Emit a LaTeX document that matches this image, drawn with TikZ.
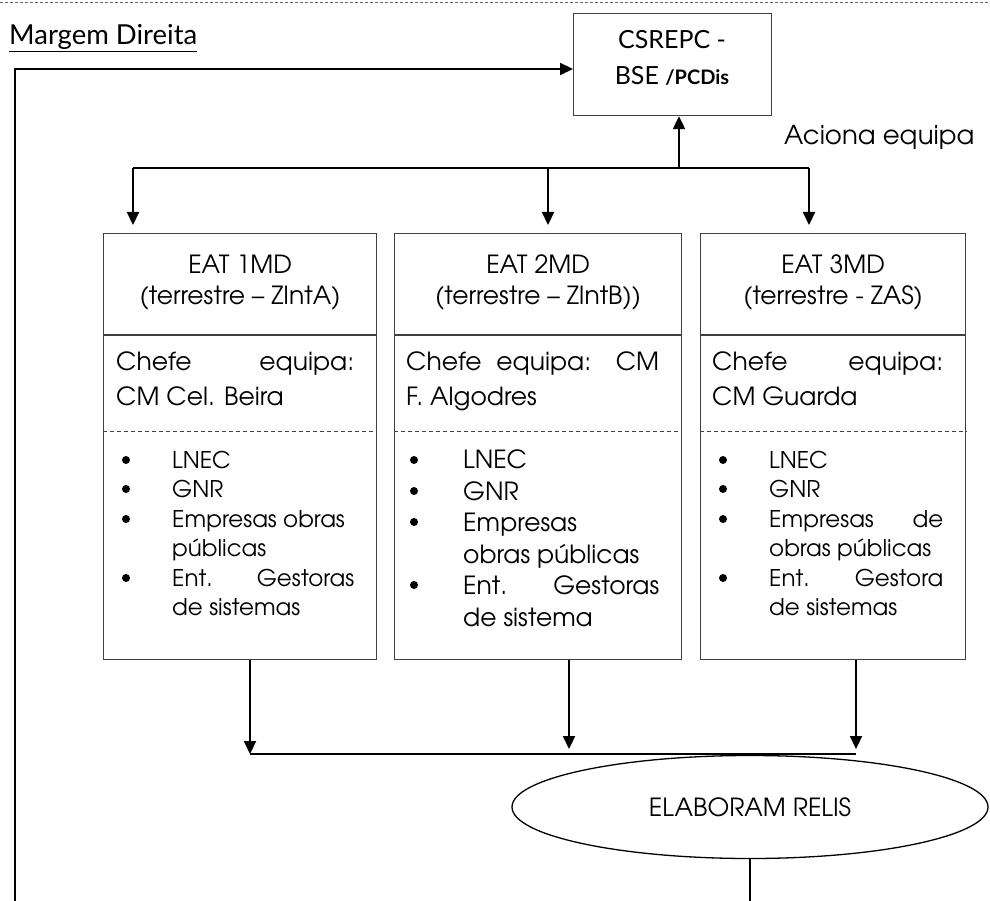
\documentclass[tikz,border=0pt]{standalone}
\usepackage{fontspec}
\setmainfont{TeX Gyre Adventor}
\newfontfamily\gillfont{Lato}
\usetikzlibrary{positioning,arrows.meta}
\usetikzlibrary{shapes.geometric}
\tikzstyle{eatbox} = [draw=black!75, line width=1.2pt, anchor=north west, minimum height=426pt, inner sep=0pt]
\tikzstyle{boxline} = [draw=black!75, line width=1.2pt]
\tikzstyle{flecha} = [line width=2.2pt, -{Triangle[length=13pt,width=12pt]}]
\tikzstyle{fio} = [line width=1.4pt]
\tikzstyle{txt} = [anchor=base west, inner sep=0pt, font=\fontsize{23}{28}\selectfont]
\tikzstyle{txtb} = [anchor=base west, inner sep=0pt, font=\fontsize{25}{30}\selectfont]
\tikzstyle{titulo} = [anchor=base, inner sep=0pt, font=\fontsize{25}{30}\selectfont]
\newcommand{\marca}[2]{\fill (#1,#2) circle (4pt);}

\begin{document}
\begin{tikzpicture}[x=1pt,y=-1pt]
\useasboundingbox (0,0) rectangle (990,901);

    % Dashed rule on top
    \draw[black!60, line width=0.6pt, dash pattern=on 3pt off 2pt] (0,2) -- (990,2);

    \node[anchor=base west, inner sep=0pt, font=\gillfont\fontsize{27.5}{32}\selectfont] (margem) at (9,45) {\underline{Margem Direita}};

    % Top box
    \node[draw=black!75, line width=1.2pt, anchor=north west, minimum width=198pt, minimum height=102pt] (csrepc) at (573,13) {};
    \node[align=center, inner sep=0pt, font=\gillfont\fontsize{25}{36}\selectfont] (csrepctxt) at (672,58)
          {CSREPC -\\BSE {\bfseries\fontsize{20}{36}\selectfont /PCDis}};

    % Long return line on the left
    \coordinate (pe) at (15,901);
    \coordinate (canto) at (15,69);
    \draw[line width=2pt, -{Triangle[length=13pt,width=12pt]}] (pe) -- (canto) -- (csrepc.west |- canto);

    \node[anchor=base west, inner sep=0pt, font=\fontsize{26}{30}\selectfont] (aciona) at (784,145) {Aciona equipa};

    % The three teams
    \node[eatbox, minimum width=273pt] (eat1) at (103,233) {};
    \node[eatbox, minimum width=287pt] (eat2) at (394,233) {};
    \node[eatbox, minimum width=265pt] (eat3) at (700,233) {};

    \foreach \b in {eat1,eat2,eat3}{
        \draw[boxline] (\b.west |- 0,335) -- (\b.east |- 0,335);
        \draw[boxline, line width=0.9pt, dash pattern=on 4pt off 3pt] (\b.west |- 0,431) -- (\b.east |- 0,431);
    }

    % Activation lines
    \coordinate (sobe) at (679,168);
    \coordinate (ramo1) at (133,168);
    \coordinate (ramo2) at (548,168);
    \coordinate (ramo3) at (809,168);
    \draw[fio] (ramo1) -- (ramo3);
    \draw[flecha] (sobe) -- (sobe |- csrepc.south);
    \draw[flecha, shorten >=8pt] (ramo1) -- (ramo1 |- eat1.north);
    \draw[flecha, shorten >=8pt] (ramo2) -- (ramo2 |- eat2.north);
    \draw[flecha, shorten >=8pt] (ramo3) -- (ramo3 |- eat3.north);

    % Headers
    \node[titulo] (t1a) at (eat1.north |- 0,273) {EAT 1MD};
    \node[titulo] (t1b) at (eat1.north |- 0,305) {(terrestre – ZIntA)};
    \node[titulo] (t2a) at (eat2.north |- 0,273) {EAT 2MD};
    \node[titulo] (t2b) at (eat2.north |- 0,305) {(terrestre – ZIntB))};
    \node[titulo] (t3a) at (eat3.north |- 0,273) {EAT 3MD};
    \node[titulo] (t3b) at (eat3.north |- 0,305) {(terrestre - ZAS)};

    % Team leaders
    \node[txtb] (c1a) at (116,370) {\makebox[238pt][s]{Chefe equipa:}};
    \node[txtb] (c1b) at (116,405) {CM Cel. Beira};
    \node[txtb] (c2a) at (406,370) {\makebox[253pt][s]{Chefe equipa: CM}};
    \node[txtb] (c2b) at (406,405) {F. Algodres};
    \node[txtb] (c3a) at (712,370) {\makebox[231pt][s]{Chefe equipa:}};
    \node[txtb] (c3b) at (712,405) {CM Guarda};

    % Members, team 1
    \node[txt] (m1a) at (172,468) {LNEC};
    \node[txt] (m1b) at (172,497) {GNR};
    \node[txt] (m1c) at (172,527) {Empresas obras};
    \node[txt] (m1d) at (172,556) {públicas};
    \node[txt] (m1e) at (172,586) {\makebox[182pt][s]{Ent. Gestoras}};
    \node[txt] (m1f) at (172,615) {de sistemas};
    \foreach \y in {460,489,519,578} {\marca{126}{\y}}

    % Members, team 2
    \node[txtb] (m2a) at (463,468) {LNEC};
    \node[txtb] (m2b) at (463,500) {GNR};
    \node[txtb] (m2c) at (463,531) {Empresas};
    \node[txtb] (m2d) at (463,563) {obras públicas};
    \node[txtb] (m2e) at (463,594) {\makebox[196pt][s]{Ent. Gestoras}};
    \node[txtb] (m2f) at (463,626) {de sistema};
    \foreach \y in {460,491,522,585} {\marca{414}{\y}}

    % Members, team 3
    \node[txt] (m3a) at (769,468) {LNEC};
    \node[txt] (m3b) at (769,497) {GNR};
    \node[txt] (m3c) at (769,527) {\makebox[174pt][s]{Empresas de}};
    \node[txt] (m3d) at (769,556) {obras públicas};
    \node[txt] (m3e) at (769,586) {\makebox[174pt][s]{Ent. Gestora}};
    \node[txt] (m3f) at (769,615) {de sistemas};
    \foreach \y in {460,489,519,578} {\marca{723}{\y}}

    % Reports
    \coordinate (junta1) at (250,754);
    \coordinate (junta2) at (569,754);
    \coordinate (junta3) at (856,754);
    \draw[flecha] (junta1 |- eat1.south) -- (junta1);
    \draw[flecha, shorten >=5pt] (junta2 |- eat2.south) -- (junta2);
    \draw[flecha, shorten >=5pt] (junta3 |- eat3.south) -- (junta3);
    \draw[fio] (junta1) -- (junta3);

    \node[draw, ellipse, line width=1.3pt, minimum width=476pt, minimum height=103pt,
          font=\fontsize{25}{28}\selectfont] (relis) at (750,807) {ELABORAM RELIS};
    \coordinate (relispe) at (relis.south |- 0,901);
    \draw[fio] (relis.south) -- (relispe);

\end{tikzpicture}
\end{document}
